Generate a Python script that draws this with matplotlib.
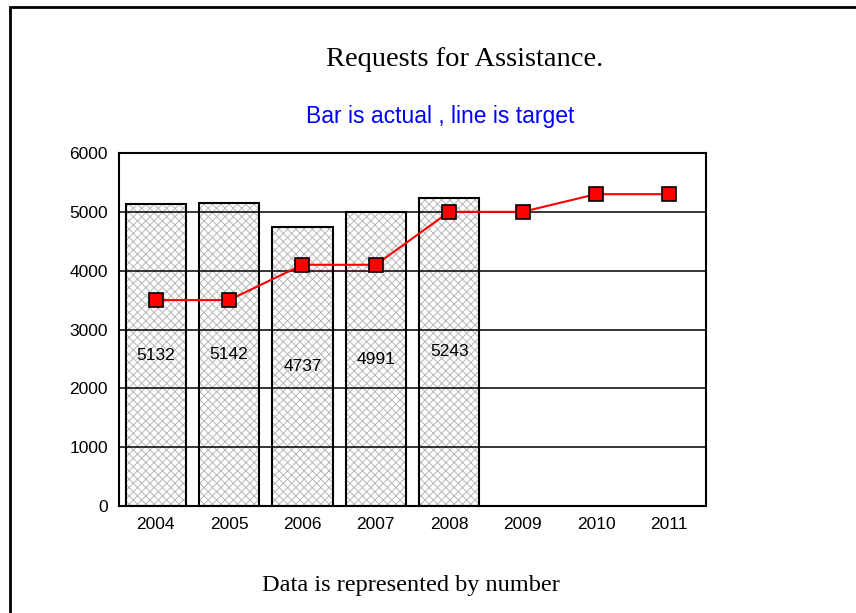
import numpy as np
import matplotlib.pyplot as plt
from matplotlib.patches import Rectangle

years = ['2004', '2005', '2006', '2007', '2008', '2009', '2010', '2011']
actual = [5132, 5142, 4737, 4991, 5243]
target = [3500, 3500, 4100, 4100, 5000, 5000, 5300, 5300]
yticks = [0, 1000, 2000, 3000, 4000, 5000, 6000]

plt.rcParams['hatch.linewidth'] = 0.7

fig = plt.figure(figsize=(8.56, 6.13), dpi=100)

# outer frame of the slide
fig.patches.append(Rectangle((10 / 856, -0.1), 1.0, 1 - 7 / 613 + 0.1,
                             transform=fig.transFigure, fill=False,
                             edgecolor='black', linewidth=2))

ax = fig.add_axes([119 / 856, 1 - 506 / 613, 587 / 856, 353 / 613])

x = np.arange(len(years))
xa = x[:len(actual)]

# hatched fill first, then grid, then bar outlines
ax.bar(xa, actual, width=0.82, facecolor='white', edgecolor='#b8b8b8',
       linewidth=0, hatch='xxxx', zorder=1)
for y in yticks[1:-1]:
    ax.axhline(y, color='black', linewidth=1.1, zorder=2)
ax.bar(xa, actual, width=0.82, facecolor='none', edgecolor='black',
       linewidth=1.5, zorder=3)
for i, v in enumerate(actual):
    ax.text(x[i], v / 2, str(v), ha='center', va='center', fontsize=12.5,
            family='Liberation Sans', zorder=5)

ax.plot(x, target, color='red', linewidth=1.5, marker='s', markersize=9.5,
        markerfacecolor='red', markeredgecolor='black', markeredgewidth=1.2,
        zorder=4)

ax.set_xlim(-0.5, len(years) - 0.5)
ax.set_ylim(0, 6000)
ax.set_xticks(x)
ax.set_xticklabels(years, family='Liberation Sans', fontsize=12.5)
ax.set_yticks(yticks)
ax.set_yticklabels([str(t) for t in yticks], family='Liberation Sans', fontsize=12.5)
ax.tick_params(length=0, pad=8)
for s in ax.spines.values():
    s.set_linewidth(1.5)
    s.set_zorder(6)

fig.text(465 / 856, 1 - 60 / 613, 'Requests for Assistance.', ha='center',
         va='center', fontsize=20.5, family='Liberation Serif')
fig.text(440 / 856, 1 - 117 / 613, 'Bar is actual , line is target', ha='center',
         va='center', fontsize=16.5, family='Liberation Sans', color='#0000ff')
fig.text(411 / 856, 1 - 585 / 613, 'Data is represented by number', ha='center',
         va='center', fontsize=17.5, family='Liberation Serif')

plt.savefig('out.png', dpi=100)
